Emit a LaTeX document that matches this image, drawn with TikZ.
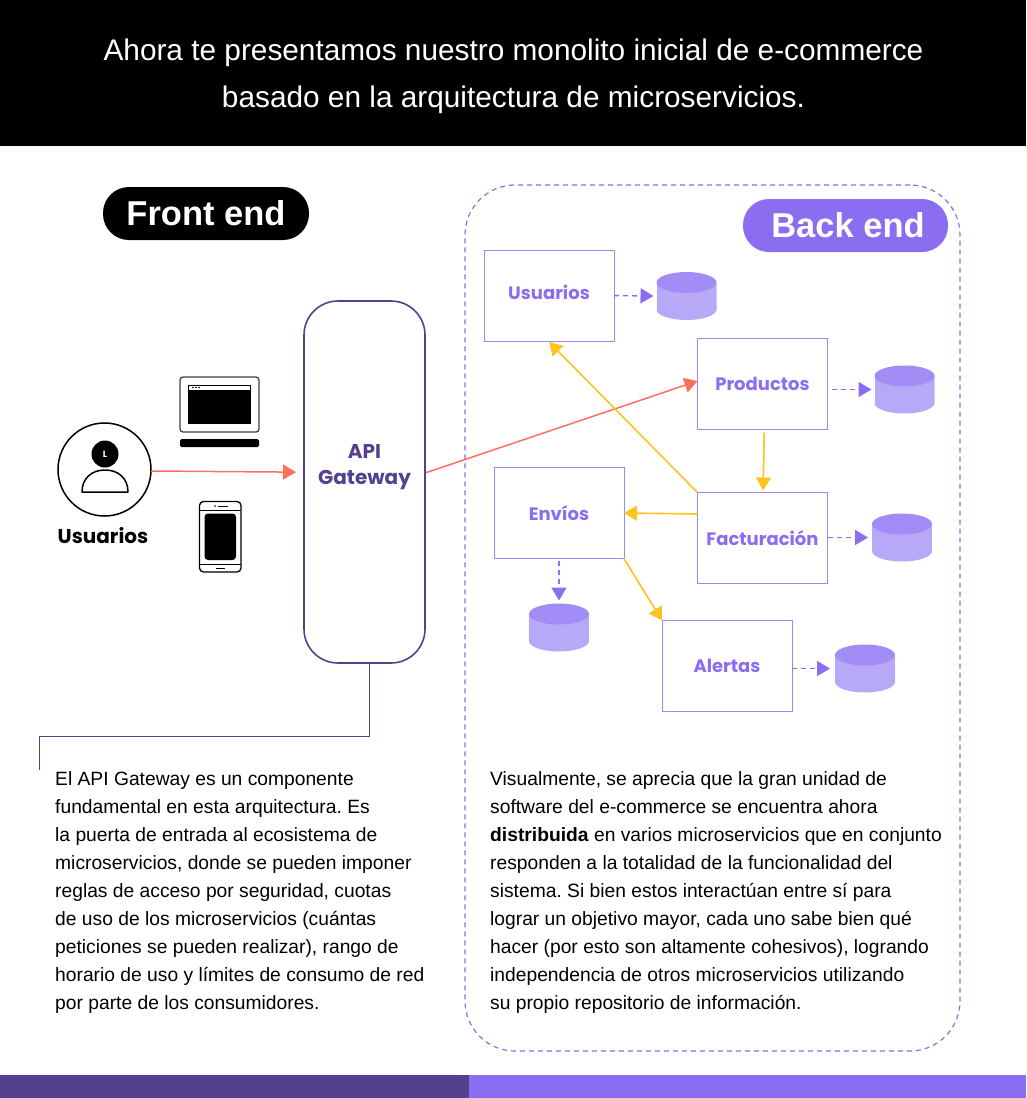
\documentclass[tikz,border=0pt]{standalone}
\usepackage{fontspec}
\setmainfont{Liberation Sans}
\newfontfamily\labelfont{Poppins}
\usetikzlibrary{arrows.meta,positioning}
\definecolor{violet}{HTML}{8A6DF1}
\definecolor{darkviolet}{HTML}{54408F}
\definecolor{boxviolet}{HTML}{9D88F5}
\definecolor{dbtop}{HTML}{A18DF5}
\definecolor{dbbody}{HTML}{B8A9F8}
\definecolor{redline}{HTML}{FF6F5E}
\definecolor{yellowline}{HTML}{FFC21F}
\tikzset{>={Triangle[length=13pt,width=15pt]}}
\frenchspacing

\begin{document}
\begin{tikzpicture}[x=1pt,y=-1pt,
servicebox/.style={rectangle, draw=boxviolet, line width=1pt, minimum width=130pt, minimum height=91pt, outer sep=0pt, text=violet, font=\labelfont\bfseries\fontsize{18}{20}\selectfont},
database/.style={rectangle, minimum width=60pt, minimum height=48pt, inner sep=0pt, outer sep=0pt, path picture={
  \fill[dbbody, shift={(path picture bounding box.center)}] (0,13.5) ellipse [x radius=30pt, y radius=10.5pt];
  \fill[dbbody, shift={(path picture bounding box.center)}] (-30,-13.5) rectangle (30,13.5);
  \fill[dbtop, shift={(path picture bounding box.center)}] (0,-13.5) ellipse [x radius=30pt, y radius=10.5pt];
}},
pill/.style={rectangle, rounded corners=26pt, minimum height=53pt, text=white, font=\bfseries\fontsize{34.5}{40}\selectfont},
bodytext/.style={anchor=north west, align=left, inner sep=0pt, font=\fontsize{19.25}{28}\selectfont},
dataflow/.style={->, dashed, dash pattern=on 5pt off 4pt, draw=violet, line width=1.5pt},
callflow/.style={->, draw=yellowline, line width=1.6pt},
entryflow/.style={->, draw=redline, line width=1.5pt},
]
\useasboundingbox (0,0) rectangle (1026,1098);

%Header and footer
\fill[black] (0,0) rectangle (1026,146);
\fill[darkviolet] (0,1075) rectangle (469,1098);
\fill[violet] (469,1075) rectangle (1026,1098);
\node[align=center, text=white, font=\fontsize{29.8}{47}\selectfont](Title) at (513.5,76){Ahora te presentamos nuestro monolito inicial de e-commerce \\ basado en la arquitectura de microservicios.};

%Back end frame
\node[rectangle, draw=violet, dashed, dash pattern=on 5pt off 4pt, line width=1.2pt, rounded corners=50pt, minimum width=495pt, minimum height=866pt](Frame) at (712.5,618){};

%Pills
\node[pill, fill=black, minimum width=206pt](Front end) at (206,213.5){Front end};
\node[pill, fill=violet, minimum width=205pt](Back end) at (845.5,225.5){\hspace*{5pt}Back end};

%Services
\node[servicebox, text depth=7pt](Usuarios) at (549,295.5){Usuarios};
\node[servicebox](Productos) at (762.5,384){Productos};
\node[servicebox](Envios) at (559,513){Envíos};
\node[servicebox](Facturacion) at (762.5,538){Facturación};
\node[servicebox](Alertas) at (727,666){Alertas};

%Databases
\node[database](Usuarios DB) at (686.5,296){};
\node[database](Productos DB) at (904.5,389.5){};
\node[database](Envios DB) at (559,627.5){};
\node[database](Facturacion DB) at (902,537.5){};
\node[database](Alertas DB) at (865,668.5){};

%API Gateway
\node[rectangle, draw=darkviolet, line width=1.6pt, rounded corners=34pt, minimum width=121pt, minimum height=362pt, outer sep=0pt](API Gateway) at (364.5,482){};
\node[align=center, text=darkviolet, font=\labelfont\bfseries\fontsize{20}{26}\selectfont](API label) at (364.5,467){API \\ Gateway};

%User
\node[circle, draw=black, line width=1.5pt, minimum size=93pt, outer sep=0pt](User) at (104.5,469.5){};
\node[circle, fill=black, minimum size=27pt, inner sep=0pt, text=white, font=\labelfont\bfseries\fontsize{9}{10}\selectfont](User head) at (105,454){L};
\draw[line width=1.5pt, line join=round] (82,492) .. controls (82,478) and (92,470) .. (105,470) .. controls (118,470) and (128,478) .. (128,492) -- cycle;
\node[font=\labelfont\bfseries\fontsize{20}{24}\selectfont](User label) at (103,536){Usuarios};

%Laptop
\draw[draw=black!75, line width=1.3pt, rounded corners=3pt] (180,377) rectangle (259,432);
\fill[black] (188,390) rectangle (251,424);
\draw[black, line width=0.9pt] (188.5,385) rectangle (250.5,390);
\foreach \dotx in {193,196,199}
  \fill[black] (\dotx,387.5) circle (0.8);
\fill[black, rounded corners=1.5pt] (180,439) rectangle (259,447);

%Phone
\draw[black, line width=1.3pt, rounded corners=4pt] (199.5,501.5) rectangle (241,572);
\draw[black, line width=1pt] (199.5,510) -- (241,510);
\draw[black, line width=1pt] (199.5,564) -- (241,564);
\fill[black, rounded corners=3.5pt] (204.5,513.5) rectangle (236,560);
\draw[black, line width=1pt] (218,506) -- (228,506);
\fill[black] (215,506) circle (0.8);
\draw[black, line width=1pt] (216,568) -- (225,568);

%Lines
\coordinate (Note corner) at (39,736);
\coordinate (Note end) at (39,770);
\draw[darkviolet, line width=0.9pt] ([xshift=4.5pt]API Gateway.south) |- (Note corner) -- (Note end);

\draw[entryflow, shorten >=8pt] ([yshift=-1.5pt]User.east) -- ([yshift=-2.7pt]User.east -| API Gateway.west);
\draw[entryflow, shorten <=1pt] ([yshift=9pt]API Gateway.east) -- ([yshift=3pt]Productos.west);

\draw[callflow] (Facturacion.north west) -- ([yshift=-1pt]Usuarios.south);
\draw[callflow, shorten <=3pt] ([xshift=1.8pt]Productos.south) -- ([xshift=0.6pt, yshift=2pt]Facturacion.north);
\draw[callflow] ([yshift=24pt]Facturacion.west) -- (Envios.east);
\draw[callflow] (Envios.south east) -- (Alertas.north west);

\draw[dataflow] (Usuarios.east) -- ([xshift=-3pt]Usuarios DB.west);
\draw[dataflow, shorten <=4pt] (Productos.east |- Productos DB.west) -- ([xshift=-3pt]Productos DB.west);
\draw[dataflow] (Facturacion.east |- Facturacion DB.west) -- ([xshift=-4pt]Facturacion DB.west);
\draw[dataflow, shorten <=2pt] (Envios.south) -- ([yshift=3pt]Envios DB.north);
\draw[dataflow] (Alertas.east |- Alertas DB.west) -- ([xshift=-5pt]Alertas DB.west);

%Text
\node[bodytext](Gateway text) at (55,771.5){El API Gateway es un componente \\ fundamental en esta arquitectura. Es \\ la puerta de entrada al ecosistema de \\ microservicios, donde se pueden imponer \\ reglas de acceso por seguridad, cuotas \\ de uso de los microservicios (cuántas \\ peticiones se pueden realizar), rango de \\ horario de uso y límites de consumo de red \\ por parte de los consumidores.};
\node[bodytext](Backend text) at (490,771.5){Visualmente, se aprecia que la gran unidad de \\ software del e-commerce se encuentra ahora \\ \textbf{distribuida} en varios microservicios que en conjunto \\ responden a la totalidad de la funcionalidad del \\ sistema. Si bien estos interactúan entre sí para \\ lograr un objetivo mayor, cada uno sabe bien qué \\ hacer (por esto son altamente cohesivos), logrando \\ independencia de otros microservicios utilizando \\ su propio repositorio de información.};
\end{tikzpicture}
\end{document}
